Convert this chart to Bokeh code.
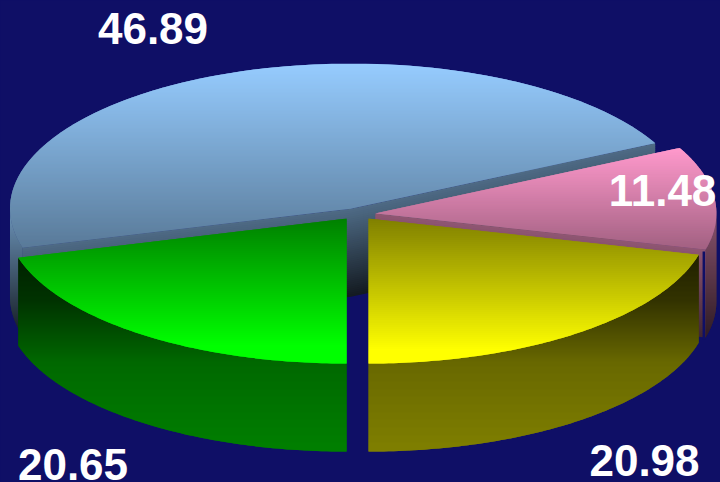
import numpy as np
from bokeh.plotting import figure
from bokeh.embed import file_html
from bokeh.resources import INLINE
from bokeh.core.properties import value

# data
names = ["yellow", "pink", "blue", "green"]
values = [20.98, 11.48, 46.89, 20.65]
base_colors = {"yellow": (255, 255, 0), "pink": (255, 153, 204), "blue": (150, 204, 255), "green": (0, 255, 0)}

# pie projection
CX, CY, RX, RY, DEPTH, EXPLODE, EXPLODE_Y = 357.0, 213.5, 341.0, 145.0, 88.0, 18.0, 0.32
START = 270.0
BG = "#0f0f66"

p = figure(width=720, height=482, x_range=(0, 720), y_range=(482, 0), toolbar_location=None,
           output_backend="svg", min_border=0, background_fill_color=BG, border_fill_color=BG,
           outline_line_color=None)
p.axis.visible = False
p.grid.visible = False


def clip(poly, y0, y1):
    def half(pts, keep, cross):
        out = []
        for i in range(len(pts)):
            a, b = pts[i - 1], pts[i]
            if keep(a) != keep(b):
                t = (cross - a[1]) / (b[1] - a[1])
                out.append((a[0] + t * (b[0] - a[0]), cross))
            if keep(b):
                out.append(b)
        return out
    pts = half(poly, lambda q: q[1] >= y0, y0)
    if pts:
        pts = half(pts, lambda q: q[1] <= y1, y1)
    return pts


def hexc(c, f):
    return "#%02x%02x%02x" % tuple(int(min(255, max(0, round(v * f)))) for v in c)


def fill(poly, base, ys_stop, fs_stop):
    """Vertical gradient: one-pixel bands clipped to the polygon."""
    xs, ys, cs = [], [], []
    ymin, ymax = min(q[1] for q in poly), max(q[1] for q in poly)
    y = float(np.floor(ymin))
    while y < ymax:
        pts = clip(poly, y, y + 2.0)
        if len(pts) >= 3:
            xs.append([q[0] for q in pts])
            ys.append([q[1] for q in pts])
            cs.append(hexc(base, float(np.interp(y + 0.5, ys_stop, fs_stop))))
        y += 1.0
    p.patches(xs, ys, fill_color=cs, line_color=None)


def fill_radial(nm, a, base, f_top, f_bot, n=44):
    """Radial wall: the gradient runs down from the slanted top edge."""
    c = slices[nm][0]
    e = rim(c, a, a, n=1)[0]
    xs, ys, cs = [], [], []
    for i in range(n):
        d0 = DEPTH * i / n
        d1 = min(DEPTH, DEPTH * (i + 1.5) / n)
        xs.append([c[0], e[0], e[0], c[0]])
        ys.append([c[1] + d0, e[1] + d0, e[1] + d1, c[1] + d1])
        cs.append(hexc(base, f_top + (f_bot - f_top) * i / (n - 1)))
    p.patches(xs, ys, fill_color=cs, line_color=None)
    return e


def rim(c, a0, a1, dy=0.0, n=90):
    th = np.radians(np.linspace(a0, a1, n))
    return [(c[0] + RX * np.cos(t), c[1] - RY * np.sin(t) + dy) for t in th]


# slice geometry derived from the values
total = sum(values)
slices = {}
ang = START
for nm, v in zip(names, values):
    span = 360.0 * v / total
    mid = np.radians(ang + span / 2)
    c = (CX + EXPLODE * np.cos(mid), CY - EXPLODE * EXPLODE_Y * np.sin(mid))
    slices[nm] = (c, ang, ang + span)
    ang += span


def top(nm):
    c, a0, a1 = slices[nm]
    return [c] + rim(c, a0, a1)


def outer(nm, a0, a1):
    c = slices[nm][0]
    return rim(c, a0, a1) + rim(c, a1, a0, DEPTH)


# blue
c_blue, b0, b1 = slices["blue"]
blue = base_colors["blue"]
fill(outer("blue", 180.0, b1 % 360), blue, [205, 325], [0.75, 0.18])
fill_radial("blue", b1, blue, 0.52, 0.13)
fill_radial("blue", b0, blue, 0.52, 0.13)
fill(top("blue"), blue, [63, 246], [1.0, 0.6])

# pink
c_pink, k0, k1 = slices["pink"]
pink = base_colors["pink"]
fill(outer("pink", k0 % 360, 360.0), pink, [210, 330], [0.55, 0.2])
end = fill_radial("pink", k0 % 360, pink, 0.56, 0.25)
p.quad(left=[end[0] - 3], right=[end[0] - 0.5], top=[end[1] + 2], bottom=[end[1] + DEPTH + 2],
       fill_color=BG, line_color=None)
fill(top("pink"), pink, [148, 247], [1.0, 0.64])

# green and yellow share the same shading
wall_y = [255, 300, 362, 450]
wall_f = [0.13, 0.2, 0.41, 0.5]
c_green, g0, g1 = slices["green"]
fill(outer("green", g0, g1), base_colors["green"], wall_y, wall_f)
fill(top("green"), base_colors["green"], [218, 345], [0.5, 1.0])

c_yel, y0, y1 = slices["yellow"]
fill(outer("yellow", y0, y1), base_colors["yellow"], wall_y, wall_f)
fill(top("yellow"), base_colors["yellow"], [218, 350], [0.5, 1.0])

# labels
labels = ["%.2f" % v for v in values]
lx = [644, 662, 152.5, 72.5]
ly = [460, 190, 28, 464]
p.text(lx, ly, text=labels, text_color="white", text_font=value("Liberation Sans"),
       text_font_style="bold", text_font_size="44px", text_align="center", text_baseline="middle")

html = file_html(p, INLINE)
html = html.replace("<head>", "<head><style>html,body{margin:0;background:%s;overflow:hidden}</style>" % BG, 1)
open("out.html", "w").write(html)
